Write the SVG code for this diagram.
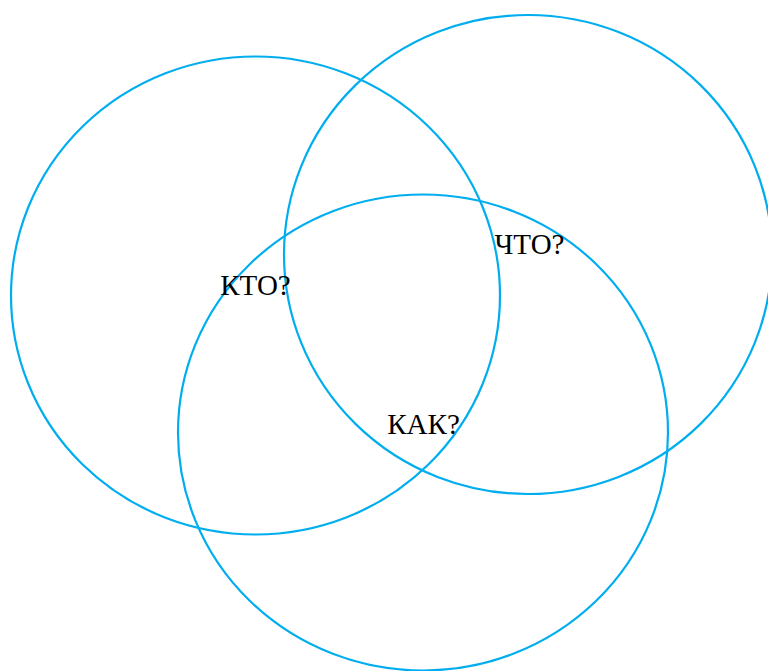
<svg xmlns="http://www.w3.org/2000/svg" width="768" height="671" viewBox="0 0 768 671">
<style>
.c{fill:none;stroke:#00AEEF;stroke-width:2.2}
.t{font-family:"Liberation Serif","Times New Roman",serif;font-size:29px;fill:#000;text-anchor:middle}
</style>
<rect width="768" height="671" fill="#fff"/>
<g id="circles">
<ellipse id="kto-circle" class="c" cx="255.5" cy="295.5" rx="244.5" ry="239"/>
<ellipse id="chto-circle" class="c" cx="528" cy="254.5" rx="244" ry="239.5"/>
<ellipse id="kak-circle" class="c" cx="423" cy="432.5" rx="245" ry="238"/>
</g>
<g id="labels">
<text id="kto" class="t" x="255.5" y="295">КТО?</text>
<text id="chto" class="t" x="529.5" y="254">ЧТО?</text>
<text id="kak" class="t" x="423.5" y="434">КАК?</text>
</g>
</svg>
